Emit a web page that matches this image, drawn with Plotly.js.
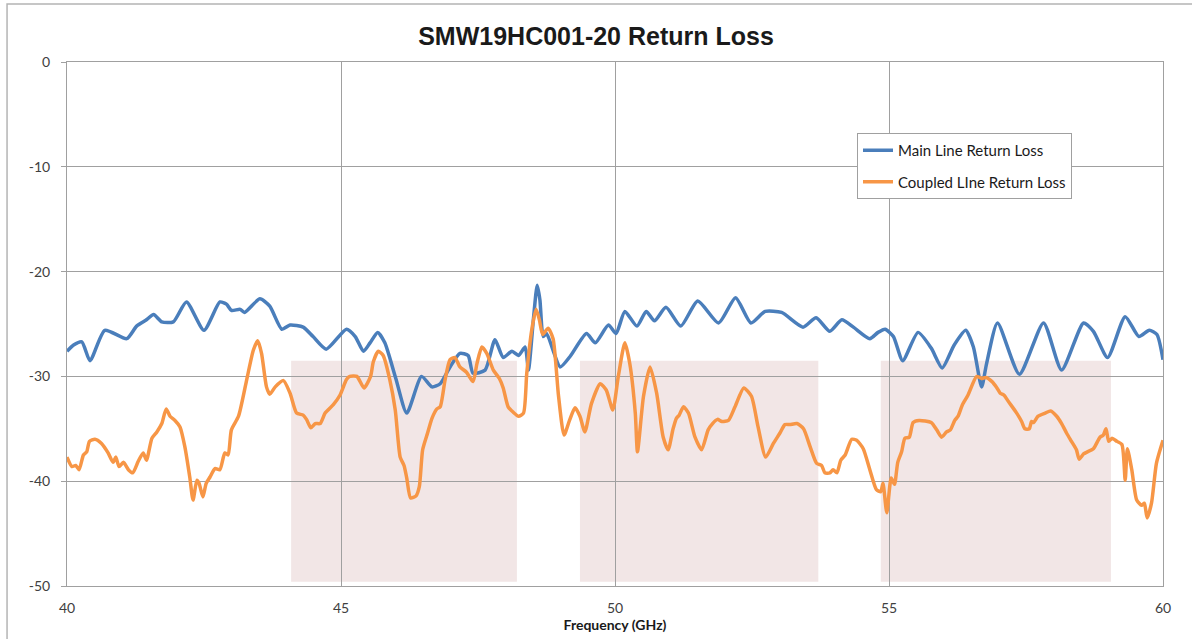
<!DOCTYPE html>
<html>
<head>
<meta charset="utf-8">
<script src="https://cdn.plot.ly/plotly-3.0.1.min.js"></script>
<style>html,body{margin:0;padding:0;background:#fff;}#chart{width:1192px;height:639px;}</style>
</head>
<body>
<div id="chart"></div>
<script>
const mainFreq = [40.0,40.12,40.27,40.42,40.69,41.09,41.27,41.45,41.58,41.73,41.94,42.18,42.5,42.79,42.91,43.0,43.16,43.24,43.52,43.70,43.92,44.07,44.31,44.49,44.73,45.10,45.26,45.41,45.53,45.67,45.80,46.0,46.20,46.47,46.66,46.81,46.99,47.17,47.32,47.41,47.63,47.81,47.96,48.12,48.24,48.36,48.42,48.51,48.58,48.63,48.69,48.75,49.0,49.18,49.48,49.64,49.88,50.02,50.18,50.40,50.57,50.72,50.93,51.20,51.51,51.89,52.20,52.48,52.74,53.04,53.43,53.67,53.92,54.14,54.35,54.65,54.80,54.93,55.08,55.25,55.53,55.77,55.97,56.19,56.40,56.54,56.69,56.78,56.98,57.38,57.82,58.15,58.55,58.73,58.99,59.31,59.56,59.75,59.89,60.0];
const mainLoss = [-27.6,-27.0,-26.7,-28.5,-25.6,-26.4,-25.2,-24.6,-24.1,-24.8,-24.8,-22.9,-25.6,-22.9,-23.1,-23.7,-23.6,-23.9,-22.6,-23.3,-25.5,-25.1,-25.3,-26.2,-27.4,-25.5,-26.2,-27.6,-26.8,-25.8,-26.8,-30.2,-33.5,-30.0,-31.0,-30.7,-29.1,-27.8,-28.0,-29.7,-29.4,-26.5,-28.2,-27.6,-28.0,-27.2,-29.4,-24.6,-21.3,-22.7,-26.2,-25.9,-29.1,-28.1,-25.9,-26.8,-25.1,-25.9,-23.8,-25.2,-23.8,-24.7,-23.4,-25.2,-22.8,-24.9,-22.5,-24.9,-23.8,-23.9,-25.3,-24.4,-25.7,-24.6,-25.3,-26.4,-25.8,-25.5,-26.2,-28.5,-25.8,-27.3,-29.2,-27.0,-25.6,-27.2,-31.0,-28.8,-24.9,-29.8,-24.9,-29.4,-24.9,-25.7,-28.2,-24.3,-26.2,-25.6,-26.0,-28.4];

const coupledFreq = [40.0,40.09,40.16,40.22,40.30,40.36,40.41,40.51,40.63,40.75,40.84,40.89,40.95,41.03,41.12,41.20,41.30,41.39,41.45,41.55,41.64,41.73,41.81,41.88,41.97,42.06,42.15,42.24,42.30,42.37,42.41,42.48,42.54,42.61,42.70,42.79,42.88,42.94,43.0,43.13,43.28,43.40,43.48,43.55,43.64,43.70,43.80,43.95,44.07,44.19,44.31,44.37,44.45,44.53,44.62,44.71,44.86,44.98,45.10,45.16,45.29,45.42,45.54,45.59,45.68,45.77,45.89,45.99,46.08,46.15,46.20,46.27,46.37,46.43,46.49,46.58,46.66,46.75,46.81,46.90,46.99,47.08,47.17,47.29,47.41,47.48,47.57,47.66,47.78,47.89,47.96,48.05,48.14,48.24,48.33,48.39,48.48,48.56,48.62,48.68,48.78,48.87,48.97,49.07,49.17,49.27,49.36,49.45,49.57,49.73,49.84,49.96,50.06,50.18,50.27,50.37,50.41,50.52,50.64,50.76,50.88,50.97,51.06,51.12,51.17,51.25,51.34,51.46,51.58,51.70,51.78,51.87,51.95,52.07,52.19,52.35,52.49,52.61,52.75,52.89,53.01,53.10,53.19,53.32,53.44,53.56,53.68,53.77,53.83,53.92,53.98,54.05,54.12,54.20,54.32,54.41,54.53,54.65,54.77,54.85,54.89,54.96,55.04,55.10,55.16,55.23,55.29,55.37,55.44,55.55,55.77,55.87,55.96,56.05,56.12,56.20,56.26,56.34,56.44,56.60,56.69,56.77,56.88,56.97,57.03,57.10,57.18,57.33,57.42,57.48,57.56,57.60,57.64,57.72,57.85,57.95,58.06,58.15,58.24,58.33,58.42,58.47,58.55,58.62,58.73,58.85,58.91,58.96,59.01,59.07,59.16,59.25,59.31,59.35,59.43,59.52,59.61,59.66,59.71,59.79,59.88,60.0];
const coupledLoss = [-37.7,-38.6,-38.5,-38.9,-37.5,-37.2,-36.2,-36.0,-36.4,-37.3,-38.2,-37.7,-38.6,-38.2,-38.9,-39.2,-38.1,-37.3,-38.0,-35.9,-35.3,-34.5,-33.1,-33.8,-34.2,-34.8,-36.7,-39.6,-41.8,-39.9,-40.2,-41.5,-40.2,-39.6,-38.8,-38.9,-37.3,-37.5,-35.1,-33.8,-30.3,-27.5,-26.6,-27.8,-31.0,-31.7,-31.0,-30.4,-31.6,-33.5,-33.7,-34.1,-34.9,-34.5,-34.5,-33.5,-32.7,-31.8,-30.3,-30.0,-30.0,-31.1,-30.0,-28.6,-27.6,-28.0,-30.3,-33.2,-37.7,-38.5,-39.7,-41.6,-41.4,-40.5,-37.0,-35.4,-34.0,-33.1,-32.9,-30.3,-28.4,-28.2,-29.1,-29.6,-30.5,-28.8,-27.2,-27.8,-29.4,-30.2,-31.1,-32.9,-33.4,-33.8,-33.5,-29.7,-25.6,-23.6,-24.6,-26.0,-25.4,-26.4,-31.9,-35.6,-34.2,-33.0,-33.8,-35.3,-32.6,-30.7,-31.3,-33.2,-30.0,-26.8,-28.8,-33.5,-37.2,-31.9,-29.1,-31.6,-35.8,-37.0,-35.0,-34.0,-33.7,-32.9,-33.5,-35.8,-37.0,-35.1,-34.5,-34.1,-34.3,-34.2,-32.9,-31.1,-31.9,-34.8,-37.7,-36.4,-35.4,-34.6,-34.6,-34.5,-35.0,-36.7,-38.3,-38.5,-39.2,-39.2,-38.9,-39.2,-38.0,-37.5,-36.0,-36.1,-36.9,-38.9,-40.8,-41.0,-40.2,-43.0,-39.7,-40.3,-38.2,-37.2,-35.9,-35.8,-34.4,-34.2,-34.4,-35.1,-35.8,-35.3,-35.1,-34.2,-33.8,-32.7,-31.8,-30.0,-30.2,-30.1,-30.5,-31.1,-31.6,-31.8,-32.4,-33.5,-34.3,-35.0,-35.0,-34.3,-34.4,-33.8,-33.5,-33.3,-33.8,-34.5,-35.4,-36.2,-37.0,-37.9,-37.4,-37.2,-36.9,-35.8,-35.6,-35.0,-36.2,-35.9,-36.2,-36.5,-39.9,-36.9,-38.9,-41.8,-42.3,-42.1,-43.5,-42.1,-38.3,-36.1];

// shaded bands: [start GHz, end GHz], [top dB, bottom dB]
const bandStart = [44.09, 49.36, 54.85];
const bandEnd = [48.21, 53.71, 59.05];
const bandTop = -28.5;
const bandBottom = -49.6;

const xTicks = [40, 45, 50, 55, 60];
const yTicks = [0, -10, -20, -30, -40, -50];

const traces = [
  {x: mainFreq, y: mainLoss, type: 'scatter', mode: 'lines', name: 'Main Line Return Loss', legendgroup: 'a',
   line: {color: '#4A7EBB', width: 3.5, shape: 'spline', smoothing: 0.6}},
  {x: coupledFreq, y: coupledLoss, type: 'scatter', mode: 'lines', name: 'Coupled LIne Return Loss', legendgroup: 'b',
   line: {color: '#F79646', width: 3.5, shape: 'spline', smoothing: 0.6}}
];

const shapes = bandStart.map((s, i) => ({
  type: 'rect', xref: 'x', yref: 'y', x0: s, x1: bandEnd[i], y0: bandBottom, y1: bandTop,
  fillcolor: '#F2E6E6', line: {width: 0}, layer: 'below'
}));
shapes.push({type: 'rect', xref: 'paper', yref: 'paper', x0: -0.0547, x1: 1.03, y0: -0.11, y1: 1.1107,
  line: {color: '#b4b4b4', width: 1.5}, fillcolor: 'rgba(0,0,0,0)', layer: 'above'});

const tickFont = {family: 'Lato, "Liberation Sans", sans-serif', size: 14, color: '#404040'};

const layout = {
  width: 1192, height: 639,
  margin: {l: 67, r: 29, t: 62, b: 53},
  paper_bgcolor: '#ffffff', plot_bgcolor: '#ffffff',
  title: {text: 'SMW19HC001-20 Return Loss', x: 0.5, xanchor: 'center', y: 0.943, yanchor: 'middle',
    font: {family: '"Liberation Sans", Arial, sans-serif', size: 25, color: '#1a1a1a', weight: 'bold'}},
  xaxis: {range: [40, 60], tickvals: xTicks, ticktext: xTicks.map(String), showgrid: true, gridcolor: '#a0a0a0', gridwidth: 1,
    zeroline: false, showline: true, linecolor: '#a0a0a0', mirror: true, ticks: '', ticklabelstandoff: 9,
    tickfont: tickFont,
    title: {text: '<b>Frequency (GHz)</b>', standoff: 5, font: {family: 'Lato, "Liberation Sans", sans-serif', size: 14, color: '#1a1a1a'}}},
  yaxis: {range: [-50, 0], tickvals: yTicks, ticktext: yTicks.map(String), showgrid: true, gridcolor: '#a0a0a0', gridwidth: 1,
    zeroline: false, showline: true, linecolor: '#a0a0a0', mirror: true, ticks: 'outside', ticklen: 5, tickcolor: '#a0a0a0',
    ticklabelstandoff: 8, tickfont: tickFont},
  legend: {x: 0.7208, y: 0.8645, xanchor: 'left', yanchor: 'top', bgcolor: '#ffffff', bordercolor: '#a0a0a0', borderwidth: 1,
    font: {family: 'Lato, "Liberation Sans", sans-serif', size: 15, color: '#1a1a1a'}, traceorder: 'grouped', tracegroupgap: 9,
    itemwidth: 30},
  shapes: shapes,
  showlegend: true
};

Plotly.newPlot('chart', traces, layout, {staticPlot: true, displayModeBar: false});
</script>
</body>
</html>
